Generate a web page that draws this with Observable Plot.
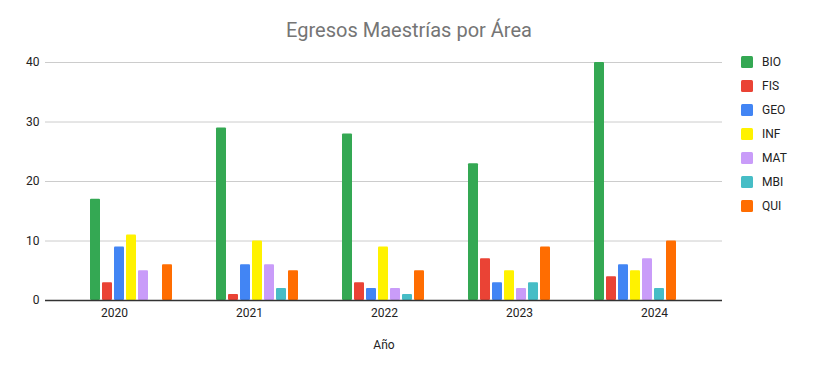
<!DOCTYPE html>
<html>
<head>
<meta charset="utf-8">
<script src="https://cdn.jsdelivr.net/npm/d3@7"></script>
<script src="https://cdn.jsdelivr.net/npm/@observablehq/plot@0.6"></script>
<style>
  html, body { margin: 0; padding: 0; background: #fff; }
  #wrap { position: relative; width: 818px; height: 371px; font-family: Roboto, "Noto Sans", sans-serif; }
  #title { position: absolute; left: 0; top: 18px; width: 818px; text-align: center; font-size: 20px; line-height: 24px; color: #757575; }
  #legend { position: absolute; left: 741px; top: 50px; }
  .item { display: flex; align-items: center; height: 24px; font-size: 12px; color: #222; }
  .sw { width: 12px; height: 12px; border-radius: 1.5px; margin-right: 9px; }
  .layer { position: absolute; left: 0; top: 0; }
</style>
</head>
<body>
<div id="wrap">
  <div id="base" class="layer"></div>
  <div id="bars" class="layer"></div>
  <div id="title">Egresos Maestrías por Área</div>
  <div id="legend"></div>
</div>
<script>
const years = ["2020", "2021", "2022", "2023", "2024"];
const areas = ["BIO", "FIS", "GEO", "INF", "MAT", "MBI", "QUI"];
const BIO = [17, 29, 28, 23, 40];
const FIS = [3, 1, 3, 7, 4];
const GEO = [9, 6, 2, 3, 6];
const INF = [11, 10, 9, 5, 5];
const MAT = [5, 6, 2, 2, 7];
const MBI = [0, 2, 1, 3, 2];
const QUI = [6, 5, 5, 9, 10];
const colors = ["#34a853", "#ea4335", "#4285f4", "#fff200", "#c99cf9", "#46bdc6", "#ff6d01"];
const yTicks = [0, 10, 20, 30, 40];

const series = { BIO, FIS, GEO, INF, MAT, MBI, QUI };
const data = years.flatMap((yr, i) => areas.map(a => ({ year: yr, area: a, value: series[a][i] })));

const common = {
  width: 818,
  height: 371,
  marginTop: 62,
  marginBottom: 71,
  marginLeft: 45,
  marginRight: 96,
  style: { fontFamily: "Roboto, 'Noto Sans', sans-serif", fontSize: "12px", color: "#222", background: "transparent", overflow: "visible" }
};
const yearBand = { domain: years, paddingInner: 0.3, paddingOuter: 0.332 };

// Layer 1: grid, axes (no facets, so grid lines span the whole frame)
const base = Plot.plot({
  ...common,
  x: { ...yearBand, label: "Año", labelAnchor: "center", labelOffset: 48, tickSize: 0, tickPadding: 8 },
  y: { domain: [0, 40], ticks: yTicks, tickSize: 0, tickPadding: 6, label: null },
  marks: [
    Plot.gridY(yTicks.slice(1), { stroke: "#cccccc", strokeOpacity: 1 }),
    Plot.axisY(yTicks, { tickSize: 0, tickPadding: 6, label: null, fill: "#222" }),
    Plot.axisX({ tickSize: 0, tickPadding: 8, label: "Año", labelAnchor: "center", labelOffset: 48, fill: "#222" })
  ]
});
document.getElementById("base").appendChild(base);

// Layer 2: grouped bars (faceted by year)
const bars = Plot.plot({
  ...common,
  fx: { ...yearBand, axis: null, label: null },
  x: { domain: areas, paddingInner: 0.17, paddingOuter: 0.25, axis: null },
  y: { domain: [0, 40], axis: null },
  color: { domain: areas, range: colors },
  marks: [
    Plot.barY(data, { fx: "year", x: "area", y: "value", fill: "area", rx: 1 })
  ]
});
document.getElementById("bars").appendChild(bars);

// Layer 3: baseline on top
const baseline = Plot.plot({
  ...common,
  x: { ...yearBand, axis: null },
  y: { domain: [0, 40], axis: null },
  marks: [Plot.ruleY([0], { stroke: "#333333", strokeWidth: 1.3 })]
});
const bl = document.createElement("div");
bl.className = "layer";
bl.appendChild(baseline);
document.getElementById("wrap").insertBefore(bl, document.getElementById("title"));

const legend = document.getElementById("legend");
areas.forEach((a, i) => {
  const row = document.createElement("div");
  row.className = "item";
  const sw = document.createElement("div");
  sw.className = "sw";
  sw.style.background = colors[i];
  const t = document.createElement("span");
  t.textContent = a;
  row.appendChild(sw);
  row.appendChild(t);
  legend.appendChild(row);
});
</script>
</body>
</html>
